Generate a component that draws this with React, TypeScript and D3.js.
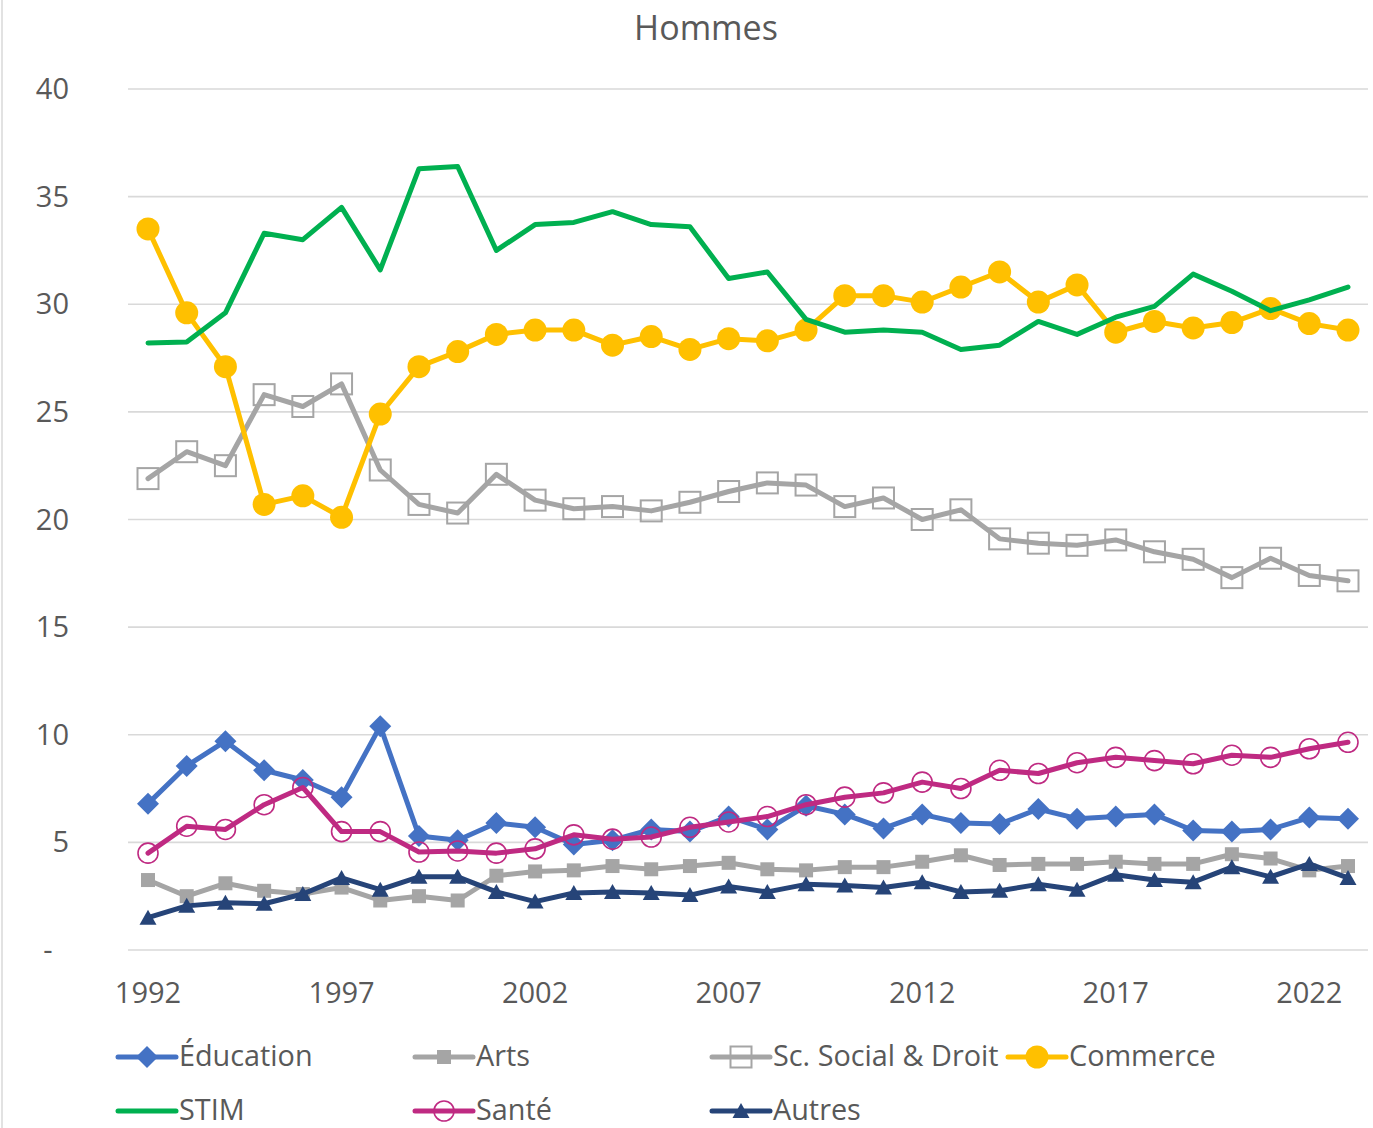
import React from "react";
import * as d3 from "d3";

const years = d3.range(1992, 2024);
const yTicks = [0, 5, 10, 15, 20, 25, 30, 35, 40];
const xTicks = [1992, 1997, 2002, 2007, 2012, 2017, 2022];

const education = [6.8, 8.55, 9.7, 8.35, 7.9, 7.1, 10.4, 5.3, 5.1, 5.9, 5.7, 4.9, 5.1, 5.6, 5.5, 6.2, 5.6, 6.7, 6.3, 5.65, 6.3, 5.9, 5.85, 6.55, 6.1, 6.2, 6.3, 5.55, 5.5, 5.6, 6.15, 6.1];
const arts = [3.25, 2.5, 3.1, 2.75, 2.6, 2.9, 2.3, 2.5, 2.3, 3.45, 3.65, 3.7, 3.9, 3.75, 3.9, 4.05, 3.75, 3.7, 3.85, 3.85, 4.1, 4.4, 3.95, 4.0, 4.0, 4.1, 4.0, 4.0, 4.45, 4.25, 3.7, 3.9];
const social = [21.9, 23.15, 22.5, 25.8, 25.25, 26.3, 22.3, 20.7, 20.3, 22.1, 20.9, 20.5, 20.6, 20.4, 20.8, 21.3, 21.7, 21.6, 20.6, 21.0, 20.0, 20.45, 19.1, 18.9, 18.8, 19.05, 18.5, 18.15, 17.3, 18.2, 17.4, 17.15];
const commerce = [33.5, 29.6, 27.1, 20.7, 21.1, 20.1, 24.9, 27.1, 27.8, 28.6, 28.8, 28.8, 28.1, 28.5, 27.9, 28.4, 28.3, 28.8, 30.4, 30.4, 30.1, 30.8, 31.5, 30.1, 30.9, 28.7, 29.2, 28.9, 29.15, 29.8, 29.1, 28.8];
const stim = [28.2, 28.25, 29.6, 33.3, 33.0, 34.5, 31.6, 36.3, 36.4, 32.5, 33.7, 33.8, 34.3, 33.7, 33.6, 31.2, 31.5, 29.3, 28.7, 28.8, 28.7, 27.9, 28.1, 29.2, 28.6, 29.4, 29.9, 31.4, 30.6, 29.7, 30.2, 30.8];
const sante = [4.5, 5.75, 5.6, 6.75, 7.55, 5.5, 5.5, 4.55, 4.6, 4.5, 4.7, 5.35, 5.15, 5.25, 5.7, 5.95, 6.2, 6.75, 7.1, 7.3, 7.8, 7.5, 8.35, 8.2, 8.7, 8.95, 8.8, 8.65, 9.05, 8.95, 9.35, 9.65];
const autres = [1.5, 2.05, 2.2, 2.15, 2.6, 3.35, 2.8, 3.4, 3.4, 2.7, 2.25, 2.65, 2.7, 2.65, 2.55, 2.95, 2.7, 3.05, 3.0, 2.9, 3.15, 2.7, 2.75, 3.05, 2.8, 3.5, 3.25, 3.15, 3.85, 3.4, 4.0, 3.35];

type Marker = "diamond" | "square" | "openSquare" | "circle" | "none" | "openCircle" | "triangle";

const seriesList: { name: string; values: number[]; color: string; marker: Marker }[] = [
  { name: "Éducation", values: education, color: "#4472C4", marker: "diamond" },
  { name: "Arts", values: arts, color: "#A5A5A5", marker: "square" },
  { name: "Sc. Social & Droit", values: social, color: "#A5A5A5", marker: "openSquare" },
  { name: "Commerce", values: commerce, color: "#FFC000", marker: "circle" },
  { name: "STIM", values: stim, color: "#00B050", marker: "none" },
  { name: "Santé", values: sante, color: "#BF2A82", marker: "openCircle" },
  { name: "Autres", values: autres, color: "#264478", marker: "triangle" },
];

const FONT = "'Open Sans', sans-serif";
const TEXT = "#595959";

function MarkerShape({ type, color, cx, cy }: { type: Marker; color: string; cx: number; cy: number }) {
  switch (type) {
    case "diamond": {
      const r = 11;
      return <path d={`M${cx},${cy - r}L${cx + r},${cy}L${cx},${cy + r}L${cx - r},${cy}Z`} fill={color} />;
    }
    case "square":
      return <rect x={cx - 7} y={cy - 7} width={14} height={14} fill={color} />;
    case "openSquare":
      return <rect x={cx - 10.5} y={cy - 10.5} width={21} height={21} fill="none" stroke={color} strokeWidth={2} />;
    case "circle":
      return <circle cx={cx} cy={cy} r={11.5} fill={color} />;
    case "openCircle":
      return <circle cx={cx} cy={cy} r={10} fill="none" stroke={color} strokeWidth={1.6} />;
    case "triangle": {
      const w = 17, h = 14;
      return <path d={`M${cx},${cy - h / 2 - 1}L${cx + w / 2},${cy + h / 2}L${cx - w / 2},${cy + h / 2}Z`} fill={color} />;
    }
    default:
      return null;
  }
}

export default function App() {
  const W = 1373, H = 1128;
  const x = d3.scaleLinear().domain([1992, 2023]).range([148, 1348]);
  const y = d3.scaleLinear().domain([0, 40]).range([950, 89]);
  const line = d3.line<number>().x((_, i) => x(years[i])).y((d) => y(d));

  const legendPos = [
    { lx: 118, ly: 1057 },
    { lx: 415, ly: 1057 },
    { lx: 712, ly: 1057 },
    { lx: 1008, ly: 1057 },
    { lx: 118, ly: 1111 },
    { lx: 415, ly: 1111 },
    { lx: 712, ly: 1111 },
  ];

  return (
    <svg width={W} height={H} style={{ position: "absolute", left: 0, top: 0, background: "#fff" }} fontFamily={FONT}>
      <rect x={0} y={0} width={W} height={H} fill="#fff" />
      <line x1={2} x2={2} y1={0} y2={H} stroke="#D9D9D9" strokeWidth={1.5} />
      <text x={706} y={40} textAnchor="middle" fontSize={34} fill={TEXT}>Hommes</text>
      {yTicks.map((t) => (
        <g key={t}>
          <line x1={128} x2={1368} y1={y(t)} y2={y(t)} stroke="#D9D9D9" strokeWidth={1.6} />
          {t === 0 ? (
            <text x={48} y={y(t) + 10} textAnchor="middle" fontSize={29} fill={TEXT}>-</text>
          ) : (
            <text x={69} y={y(t) + 10} textAnchor="end" fontSize={29} fill={TEXT}>{t}</text>
          )}
        </g>
      ))}
      {xTicks.map((t) => (
        <text key={t} x={x(t)} y={1003} textAnchor="middle" fontSize={29} fill={TEXT}>{t}</text>
      ))}
      {seriesList.map((s) => (
        <g key={s.name}>
          <path d={line(s.values) || ""} fill="none" stroke={s.color} strokeWidth={5} strokeLinejoin="round" strokeLinecap="round" />
          {s.values.map((v, i) => (
            <MarkerShape key={i} type={s.marker} color={s.color} cx={x(years[i])} cy={y(v)} />
          ))}
        </g>
      ))}
      {seriesList.map((s, i) => {
        const p = legendPos[i];
        return (
          <g key={s.name}>
            <line x1={p.lx} x2={p.lx + 58} y1={p.ly} y2={p.ly} stroke={s.color} strokeWidth={5} strokeLinecap="round" />
            <MarkerShape type={s.marker} color={s.color} cx={p.lx + 29} cy={p.ly} />
            <text x={p.lx + 61} y={p.ly + 9} fontSize={28.8} fill={TEXT}>{s.name}</text>
          </g>
        );
      })}
    </svg>
  );
}
